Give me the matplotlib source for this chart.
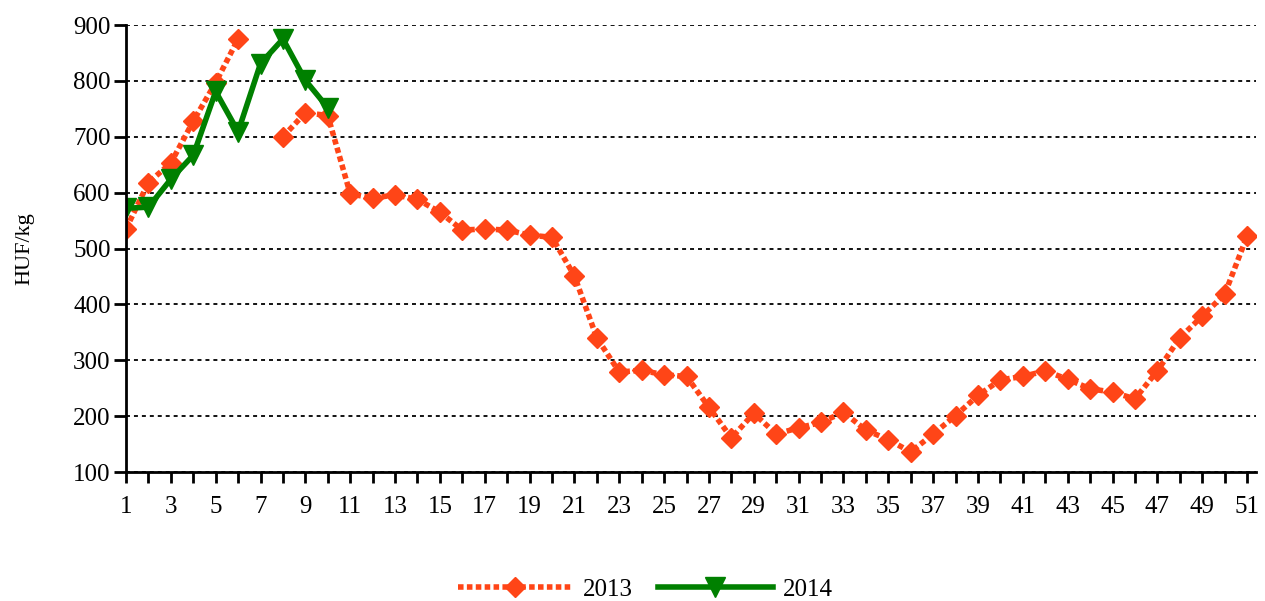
import matplotlib.pyplot as plt
import numpy as np

plt.rcParams['font.family'] = ['Liberation Serif', 'DejaVu Serif']

# weekly prices, HUF/kg (week 7 of 2013 missing)
weeks_2013 = list(range(1, 52))
price_2013 = [535, 618, 653, 728, 797, 875, np.nan, 700, 743, 738,
              598, 590, 596, 588, 565, 533, 535, 533, 524, 520,
              451, 340, 279, 282, 274, 271, 216, 161, 205, 168,
              179, 189, 207, 175, 158, 136, 168, 201, 237, 265,
              271, 281, 266, 249, 243, 231, 281, 340, 379, 418, 522]
weeks_2014 = list(range(1, 11))
price_2014 = [572, 574, 624, 667, 781, 709, 831, 875, 801, 752]

fig = plt.figure(figsize=(12.65, 6.01), dpi=100)
ax = fig.add_axes([0.0996, 0.2146, 0.8933, 0.7438])

ax.plot(weeks_2013, price_2013, color='#FF4517', lw=4, linestyle=(0, (1, 0.6)),
        marker='D', markersize=10, label='2013')
ax.plot(weeks_2014, price_2014, color='#008000', lw=4, linestyle='-',
        marker='v', markersize=14, label='2014')

ax.set_xlim(1, 51.4)
ax.set_ylim(100, 900)
ax.set_yticks(np.arange(100, 901, 100))
ax.set_xticks(range(1, 52))
ax.set_xticklabels([str(w) if w % 2 == 1 else '' for w in range(1, 52)])
ax.yaxis.grid(True, color='black', linestyle=(0, (2.2, 2.2)), lw=1.3)
ax.set_axisbelow(True)

for s in ['top', 'right']:
    ax.spines[s].set_visible(False)
ax.spines['left'].set_linewidth(2)
ax.spines['bottom'].set_linewidth(2)
ax.tick_params(axis='y', direction='out', length=9, width=2, labelsize=18, pad=2)
ax.tick_params(axis='x', direction='out', length=8, width=2, labelsize=18, pad=9)
ax.set_ylabel('HUF/kg', fontsize=16, labelpad=28)

fig.legend(loc='lower center', ncol=2, frameon=False, fontsize=18,
           handlelength=4.6, columnspacing=1.0, handletextpad=0.4,
           bbox_to_anchor=(0.51, -0.037))

fig.savefig('out.png', dpi=100)
